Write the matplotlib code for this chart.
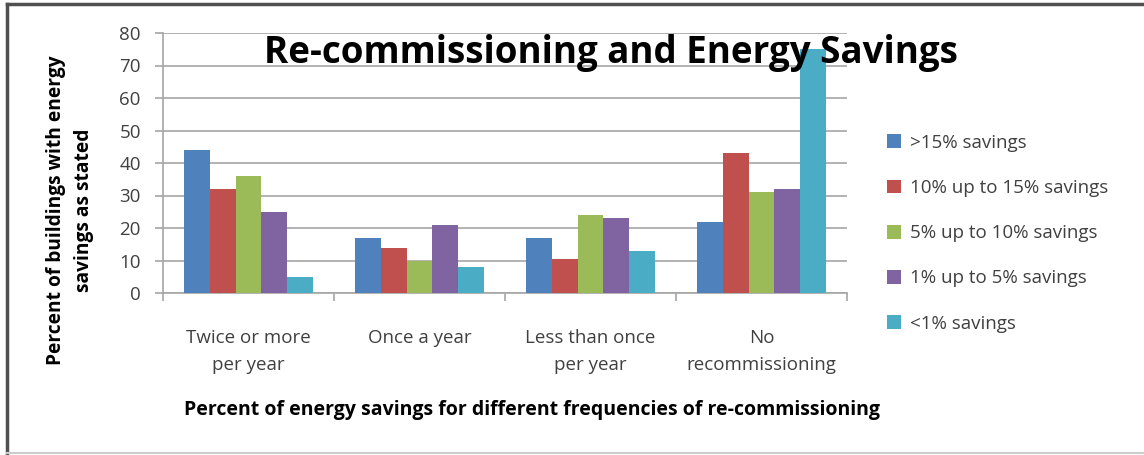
import numpy as np
import matplotlib.pyplot as plt
from matplotlib.patches import Patch
from matplotlib.lines import Line2D

plt.rcParams['font.family'] = ['Open Sans', 'DejaVu Sans']

# Frequency of re-commissioning
categories = ["Twice or more\nper year", "Once a year", "Less than once\nper year", "No\nrecommissioning"]

# Percent of buildings in each savings band
over_15 = [44, 17, 17, 22]
from_10_to_15 = [32, 14, 10.5, 43]
from_5_to_10 = [36, 10, 24, 31]
from_1_to_5 = [25, 21, 23, 32]
under_1 = [5, 8, 13, 75]

series = [over_15, from_10_to_15, from_5_to_10, from_1_to_5, under_1]
labels = [">15% savings", "10% up to 15% savings", "5% up to 10% savings",
          "1% up to 5% savings", "<1% savings"]
colors = ["#4F81BD", "#C0504D", "#9BBB59", "#8064A2", "#4BACC6"]

fig = plt.figure(figsize=(11.44, 4.55), dpi=100)
ax = fig.add_axes([163 / 1144, 1 - 293 / 455, 684 / 1144, 260 / 455])

x = np.arange(len(categories))
w = 0.152
for i, (vals, lab, col) in enumerate(zip(series, labels, colors)):
    ax.bar(x + (i - 2) * w, vals, width=w, color=col, label=lab, zorder=3)

ax.set_xlim(-0.5, len(categories) - 0.5)
ax.set_ylim(0, 80)
ax.set_yticks(range(0, 81, 10))
ax.grid(axis='y', color='#a6a6a6', linewidth=1.2, zorder=0)

for s in ['top', 'right']:
    ax.spines[s].set_visible(False)
ax.spines['left'].set_color('#a6a6a6')
ax.spines['bottom'].set_color('#a6a6a6')
ax.spines['left'].set_linewidth(1.2)
ax.spines['bottom'].set_linewidth(1.2)

# category labels centred, tick marks between groups
ax.set_xticks(x)
ax.set_xticklabels(categories, fontsize=13.5, color='#404040', linespacing=1.6)
ax.tick_params(axis='x', length=0, pad=26)
ax.set_xticks(np.arange(-0.5, len(categories)), minor=True)
ax.tick_params(axis='x', which='minor', length=6, color='#a6a6a6', width=1.2)
ax.tick_params(axis='y', length=6, color='#a6a6a6', width=1.2, labelsize=13.5,
               labelcolor='#404040', pad=10)

fig.text(611 / 1144, 1 - 53 / 455, "Re-commissioning and Energy Savings",
         fontsize=26.5, fontweight='bold', ha='center', va='center', color='black')
fig.text(532 / 1144, 1 - 410 / 455,
         "Percent of energy savings for different frequencies of re-commissioning",
         fontsize=14, fontweight='bold', ha='center', va='center', color='black')
fig.text(70 / 1144, 1 - 210 / 455, "Percent of buildings with energy\nsavings as stated",
         fontsize=13.8, fontweight='bold', ha='center', va='center', rotation=90,
         linespacing=1.55, color='black')

handles = [Patch(facecolor=c, edgecolor='none') for c in colors]
fig.legend(handles, labels, loc='upper left', bbox_to_anchor=(870 / 1144, 1 - 117 / 455),
           frameon=False, fontsize=13.5, labelcolor='#404040', handlelength=0.75,
           handleheight=0.75, handletextpad=0.5, labelspacing=1.45)

# chart frame
fig.add_artist(Line2D([7 / 1144, 7 / 1144], [0.005, 1 - 4 / 455], transform=fig.transFigure,
                      color='#505050', linewidth=2.5))
fig.add_artist(Line2D([7 / 1144, 1], [1 - 4 / 455, 1 - 4 / 455], transform=fig.transFigure,
                      color='#505050', linewidth=2.5))
fig.add_artist(Line2D([7 / 1144, 1], [0.004, 0.004], transform=fig.transFigure,
                      color='#cccccc', linewidth=1.5))

fig.savefig("out.png", dpi=100)
